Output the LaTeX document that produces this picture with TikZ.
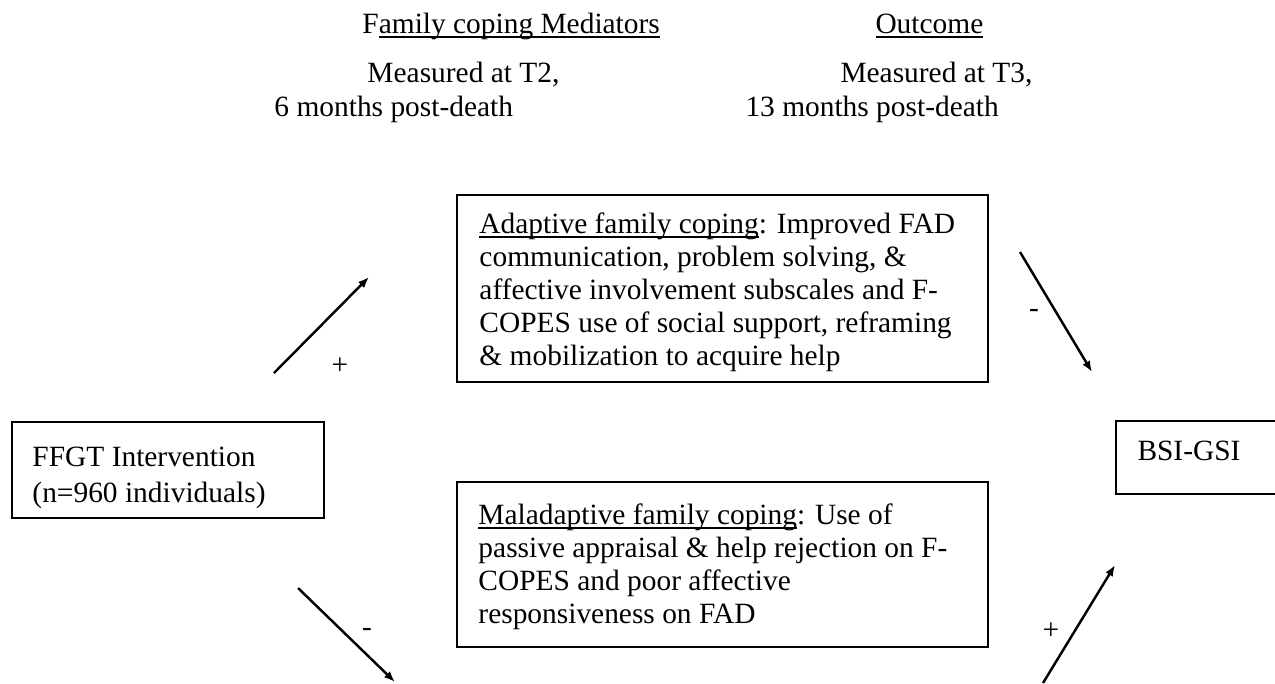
\documentclass[tikz,border=0pt]{standalone}
\usepackage{fontspec}
\setmainfont{Liberation Serif}
\usetikzlibrary{arrows.meta}
\newcommand{\undl}[1]{\setbox0=\hbox{#1}\rlap{\rule[-2pt]{\wd0}{0.8pt}}\box0}
\tikzset{
    box/.style = {draw, line width = 0.8pt, inner sep = 0pt, anchor = north west},
    boxtext/.style = {align = left, inner sep = 0pt, anchor = north west, font = \fontsize{12}{13.5}\selectfont},
    head/.style = {inner sep = 0pt, anchor = base west, font = \fontsize{12}{13.8}\selectfont},
    link/.style = {line width = 1pt, -{Latex[length = 4.5pt, width = 3.5pt]}},
    sign/.style = {inner sep = 0pt, font = \fontsize{12}{13.8}\selectfont}
}
\begin{document}
\begin{tikzpicture}[x = 0.408pt, y = -0.408pt]
            \useasboundingbox (0,0) rectangle (1275,683);
            \begin{scope}[style = head]
                \node (medhead) at (362,33) {F\undl{amily coping Mediators}};
                \node (outhead) at (875,33) {\undl{Outcome}};
                \node (medtime) at (367,82) {Measured at T2,};
                \node (medpost) at (274,116) {6 months post-death};
                \node (outtime) at (840,82) {Measured at T3,};
                \node (outpost) at (745,116) {13 months post-death};
            \end{scope}
            \node[box, minimum width = 312*0.408pt, minimum height = 96*0.408pt] (ffgt) at (11,421) {};
            \node[box, minimum width = 531*0.408pt, minimum height = 187*0.408pt] (adaptive) at (456,194) {};
            \node[box, minimum width = 531*0.408pt, minimum height = 165*0.408pt] (maladaptive) at (456,481) {};
            \node[box, minimum width = 220*0.408pt, minimum height = 73*0.408pt] (bsi) at (1115,420) {};
            \node[boxtext, font = \fontsize{12}{14.5}\selectfont] (ffgt text) at (32,447) {FFGT Intervention\\(n=960 individuals)};
            \node[boxtext] (adaptive text) at (479,212) {\undl{Adaptive family coping}: Improved FAD\\communication, problem solving, \&\\affective involvement subscales and F-\\COPES use of social support, reframing\\\& mobilization to acquire help};
            \node[boxtext] (maladaptive text) at (478,503) {\undl{Maladaptive family coping}: Use of\\passive appraisal \& help rejection on F-\\COPES and poor affective\\responsiveness on FAD};
            \node[boxtext] (bsi text) at (1137,441) {BSI-GSI};
            % arrows
            \coordinate (p1) at (274,373);
            \coordinate (q1) at (369,277);
            \coordinate (p2) at (1020,252);
            \coordinate (q2) at (1092,372);
            \coordinate (p3) at (298,588);
            \coordinate (q3) at (395,682);
            \coordinate (p4) at (1043,683);
            \coordinate (q4) at (1115,565);
            \draw[link] (p1) -- (q1);
            \draw[link] (p2) -- (q2);
            \draw[link] (p3) -- (q3);
            \draw[link] (p4) -- (q4);
            \node[sign] (s1) at (340,366) {+};
            \node[sign] (s2) at (1034,313) {-};
            \node[sign] (s3) at (367,632) {-};
            \node[sign] (s4) at (1051,631) {+};
        \end{tikzpicture}
\end{document}
